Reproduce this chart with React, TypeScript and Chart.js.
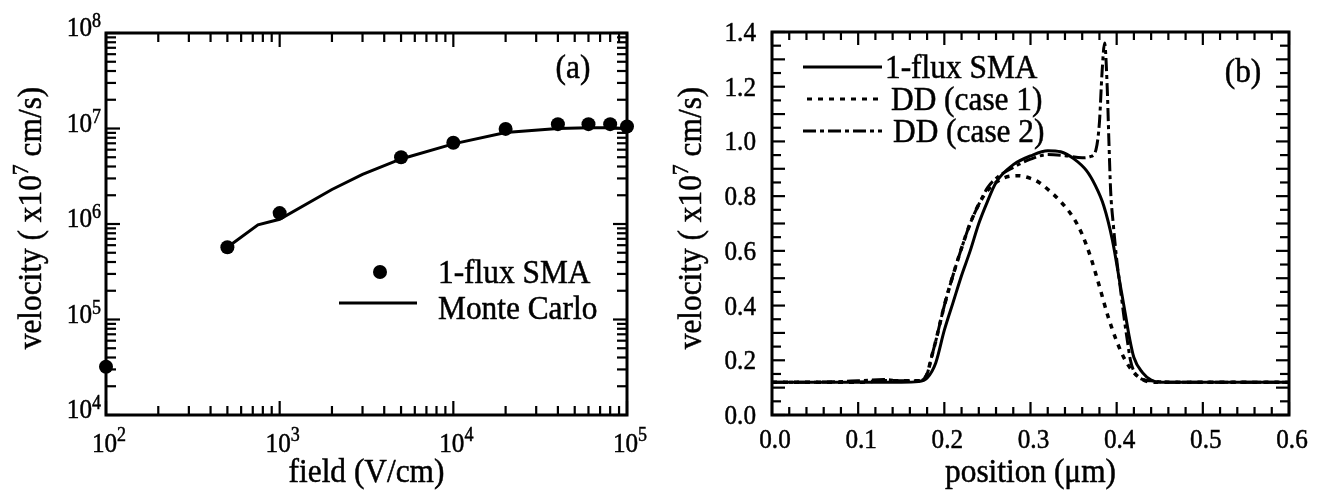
import React, { useEffect, useRef } from 'react';
import { Chart, registerables } from 'chart.js';

Chart.register(...registerables);

const FONT = '"Liberation Serif", "Times New Roman", Times, serif';
const INK = '#000000';

// ---------- Panel (a): velocity vs field (log-log) ----------
const fieldSMA = [100, 500, 1000, 5000, 10000, 20000, 40000, 60000, 80000, 100000];
const velocitySMA = [3.2e4, 5.7e5, 1.3e6, 5.0e6, 7.1e6, 9.9e6, 1.11e7, 1.11e7, 1.11e7, 1.05e7];
const fieldMC = [500, 750, 1000, 2000, 3000, 5000, 10000, 20000, 40000, 60000, 80000, 100000];
const velocityMC = [5.7e5, 9.8e5, 1.12e6, 2.3e6, 3.3e6, 4.8e6, 6.9e6, 9.1e6, 1.0e7, 1.02e7, 1.02e7, 1.0e7];
const aXExponents = [2, 3, 4, 5];
const aYExponents = [4, 5, 6, 7, 8];

// ---------- Panel (b): velocity vs position ----------
const posSMA = [0, 0.05, 0.10, 0.15, 0.17, 0.18, 0.19, 0.20, 0.21, 0.22, 0.23, 0.24, 0.25, 0.26, 0.28, 0.30, 0.32, 0.335, 0.35, 0.365, 0.375, 0.385, 0.395, 0.405, 0.41, 0.415, 0.42, 0.43, 0.44, 0.45, 0.50, 0.55, 0.60];
const velSMA = [0.12, 0.12, 0.12, 0.12, 0.122, 0.135, 0.19, 0.31, 0.41, 0.51, 0.60, 0.70, 0.78, 0.85, 0.915, 0.947, 0.966, 0.962, 0.937, 0.893, 0.84, 0.765, 0.64, 0.46, 0.37, 0.28, 0.21, 0.155, 0.128, 0.12, 0.12, 0.12, 0.12];
const posCase1 = [0, 0.05, 0.10, 0.13, 0.15, 0.17, 0.18, 0.185, 0.19, 0.20, 0.21, 0.22, 0.23, 0.24, 0.25, 0.26, 0.27, 0.285, 0.30, 0.31, 0.32, 0.335, 0.35, 0.36, 0.37, 0.38, 0.39, 0.40, 0.41, 0.42, 0.43, 0.44, 0.46, 0.50, 0.55, 0.60];
const velCase1 = [0.12, 0.12, 0.12, 0.125, 0.125, 0.125, 0.15, 0.21, 0.27, 0.40, 0.51, 0.61, 0.70, 0.77, 0.82, 0.85, 0.868, 0.875, 0.865, 0.85, 0.825, 0.78, 0.72, 0.66, 0.575, 0.47, 0.36, 0.27, 0.20, 0.155, 0.13, 0.12, 0.12, 0.12, 0.12, 0.12];
const posCase2 = [0, 0.05, 0.10, 0.13, 0.15, 0.17, 0.18, 0.185, 0.19, 0.20, 0.21, 0.22, 0.23, 0.24, 0.25, 0.26, 0.28, 0.30, 0.32, 0.34, 0.36, 0.37, 0.376, 0.380, 0.383, 0.386, 0.389, 0.391, 0.393, 0.396, 0.40, 0.404, 0.408, 0.412, 0.416, 0.42, 0.43, 0.44, 0.46, 0.50, 0.55, 0.60];
const velCase2 = [0.12, 0.12, 0.125, 0.13, 0.125, 0.125, 0.15, 0.21, 0.27, 0.40, 0.51, 0.61, 0.70, 0.77, 0.83, 0.865, 0.905, 0.935, 0.952, 0.948, 0.94, 0.945, 0.97, 1.07, 1.25, 1.36, 1.2, 1.0, 0.82, 0.70, 0.57, 0.47, 0.37, 0.28, 0.20, 0.16, 0.13, 0.125, 0.12, 0.12, 0.12, 0.12];
const bXTickLabels = ['0.0', '0.1', '0.2', '0.3', '0.4', '0.5', '0.6'];
const bYTickLabels = ['0.0', '0.2', '0.4', '0.6', '0.8', '1.0', '1.2', '1.4'];

const DASH_CASE1 = [5, 6];
const DASH_CASE2 = [13, 4, 4, 4];

const TXT = 33;      // legend / titles font size
const TXT_SX = 0.95; // horizontal squeeze of the scanned serif
const TICK = 28;     // tick label font size
const TICK_SX = 0.9;
const SUP = 20;

type Part = { text: string; size: number; rise: number };

function line(ctx: CanvasRenderingContext2D, x1: number, y1: number, x2: number, y2: number) {
  ctx.beginPath();
  ctx.moveTo(x1, y1);
  ctx.lineTo(x2, y2);
  ctx.stroke();
}

function drawParts(ctx: CanvasRenderingContext2D, parts: Part[], x: number, y: number, align: 'left' | 'center' | 'right', sx: number) {
  ctx.save();
  ctx.textAlign = 'left';
  ctx.textBaseline = 'alphabetic';
  ctx.lineWidth = 0.5;
  ctx.setLineDash([]);
  let total = 0;
  const widths = parts.map((p) => {
    ctx.font = `${p.size}px ${FONT}`;
    const w = ctx.measureText(p.text).width * sx;
    total += w;
    return w;
  });
  let cx = align === 'left' ? x : align === 'center' ? x - total / 2 : x - total;
  parts.forEach((p, i) => {
    ctx.save();
    ctx.font = `${p.size}px ${FONT}`;
    ctx.translate(cx, y - p.rise);
    ctx.scale(sx, 1);
    ctx.fillText(p.text, 0, 0);
    ctx.strokeText(p.text, 0, 0);
    ctx.restore();
    cx += widths[i];
  });
  ctx.restore();
}

function drawRotated(ctx: CanvasRenderingContext2D, parts: Part[], x: number, y: number) {
  ctx.save();
  ctx.translate(x, y);
  ctx.rotate(-Math.PI / 2);
  drawParts(ctx, parts, 0, 0, 'center', TXT_SX);
  ctx.restore();
}

function yTitleParts(): Part[] {
  return [
    { text: 'velocity ( x10', size: TXT, rise: 0 },
    { text: '7', size: 23, rise: 13 },
    { text: ' cm/s)', size: TXT, rise: 0 },
  ];
}

const panelAPlugin = {
  id: 'panelAFrame',
  afterDraw(chart: any) {
    const ctx: CanvasRenderingContext2D = chart.ctx;
    const { left, right, top, bottom } = chart.chartArea;
    const xs = chart.scales.x;
    const ys = chart.scales.y;
    ctx.save();
    ctx.strokeStyle = INK;
    ctx.fillStyle = INK;
    ctx.lineWidth = 2.2;
    for (let e = aXExponents[0]; e <= aXExponents[aXExponents.length - 1]; e++) {
      for (let k = 1; k <= 9; k++) {
        const v = k * Math.pow(10, e);
        if (v > xs.max * 1.0001) break;
        const px = xs.getPixelForValue(v);
        const len = k === 1 ? 14 : 9;
        line(ctx, px, bottom, px, bottom - len);
        line(ctx, px, top, px, top + len);
      }
    }
    for (let e = aYExponents[0]; e <= aYExponents[aYExponents.length - 1]; e++) {
      for (let k = 1; k <= 9; k++) {
        const v = k * Math.pow(10, e);
        if (v > ys.max * 1.0001) break;
        const py = ys.getPixelForValue(v);
        const len = k === 1 ? 14 : 10;
        line(ctx, left, py, left + len, py);
        line(ctx, right, py, right - len, py);
      }
    }
    ctx.lineWidth = 3;
    ctx.strokeRect(left, top, right - left, bottom - top);

    aXExponents.forEach((e) => {
      const px = xs.getPixelForValue(Math.pow(10, e));
      drawParts(ctx, [{ text: '10', size: TICK, rise: 0 }, { text: String(e), size: SUP, rise: 11 }], px + 3, 452, 'center', TICK_SX);
    });
    aYExponents.forEach((e) => {
      const py = ys.getPixelForValue(Math.pow(10, e));
      drawParts(ctx, [{ text: '10', size: TICK, rise: 0 }, { text: String(e), size: SUP, rise: 9 }], 101, py + 3, 'right', TICK_SX);
    });

    drawParts(ctx, [{ text: 'field (V/cm)', size: TXT, rise: 0 }], (left + right) / 2, 482, 'center', TXT_SX);
    drawRotated(ctx, yTitleParts(), 41, 218);

    drawParts(ctx, [{ text: '(a)', size: TXT, rise: 0 }], 573, 78, 'center', TXT_SX);

    ctx.beginPath();
    ctx.arc(380, 272, 7, 0, Math.PI * 2);
    ctx.fill();
    drawParts(ctx, [{ text: '1-flux SMA', size: TXT, rise: 0 }], 438, 283, 'left', TXT_SX);
    ctx.lineWidth = 3;
    line(ctx, 339, 303, 417, 303);
    drawParts(ctx, [{ text: 'Monte Carlo', size: TXT, rise: 0 }], 438, 319, 'left', TXT_SX);
    ctx.restore();
  },
};

const panelBPlugin = {
  id: 'panelBFrame',
  afterDraw(chart: any) {
    const ctx: CanvasRenderingContext2D = chart.ctx;
    const { left, right, top, bottom } = chart.chartArea;
    const xs = chart.scales.x;
    const ys = chart.scales.y;
    ctx.save();
    ctx.strokeStyle = INK;
    ctx.fillStyle = INK;
    ctx.lineWidth = 2.2;
    for (let i = 0; i <= 30; i++) {
      const v = i * 0.02;
      const px = xs.getPixelForValue(v);
      const len = i % 5 === 0 ? 13 : 8;
      line(ctx, px, bottom, px, bottom - len);
      line(ctx, px, top, px, top + len);
    }
    for (let i = 0; i <= 28; i++) {
      const v = i * 0.05;
      const py = ys.getPixelForValue(v);
      const len = i % 2 === 0 ? 13 : 9;
      line(ctx, left, py, left + len, py);
      line(ctx, right, py, right - len, py);
    }
    ctx.lineWidth = 3;
    ctx.strokeRect(left, top, right - left, bottom - top);

    bXTickLabels.forEach((t) => {
      const px = xs.getPixelForValue(parseFloat(t));
      drawParts(ctx, [{ text: t, size: TICK, rise: 0 }], px + 3, 448, 'center', TICK_SX);
    });
    bYTickLabels.forEach((t) => {
      const py = ys.getPixelForValue(parseFloat(t));
      drawParts(ctx, [{ text: t, size: TICK, rise: 0 }], 96, py + 9, 'right', TICK_SX);
    });

    drawParts(ctx, [{ text: 'position (\u03bcm)', size: TXT, rise: 0 }], (left + right) / 2, 482, 'center', TXT_SX);
    drawRotated(ctx, yTitleParts(), 41, 218);

    drawParts(ctx, [{ text: '(b)', size: TXT, rise: 0 }], 583, 82, 'center', TXT_SX);

    ctx.lineWidth = 3;
    line(ctx, 143, 67, 222, 67);
    drawParts(ctx, [{ text: '1-flux SMA', size: TXT, rise: 0 }], 225, 78, 'left', TXT_SX);
    ctx.lineWidth = 3;
    ctx.setLineDash(DASH_CASE1);
    line(ctx, 147, 99, 222, 99);
    ctx.setLineDash([]);
    drawParts(ctx, [{ text: 'DD (case 1)', size: TXT, rise: 0 }], 231, 110, 'left', TXT_SX);
    ctx.lineWidth = 3;
    ctx.setLineDash(DASH_CASE2);
    line(ctx, 143, 131, 222, 131);
    ctx.setLineDash([]);
    drawParts(ctx, [{ text: 'DD (case 2)', size: TXT, rise: 0 }], 233, 142, 'left', TXT_SX);
    ctx.restore();
  },
};

function pts(xs: number[], ys: number[]) {
  return xs.map((x, i) => ({ x, y: ys[i] }));
}

function hiddenAxis(extra: any) {
  return {
    grid: { display: false },
    border: { display: false },
    ticks: { display: false },
    title: { display: false },
    ...extra,
  };
}

export default function App() {
  const refA = useRef<HTMLCanvasElement | null>(null);
  const refB = useRef<HTMLCanvasElement | null>(null);

  useEffect(() => {
    const chartA = new Chart(refA.current as HTMLCanvasElement, {
      type: 'line',
      data: {
        datasets: [
          {
            label: '1-flux SMA',
            data: pts(fieldSMA, velocitySMA),
            showLine: false,
            pointRadius: 7,
            pointBackgroundColor: INK,
            pointBorderColor: INK,
            pointBorderWidth: 0,
            clip: false,
          } as any,
          {
            label: 'Monte Carlo',
            data: pts(fieldMC, velocityMC),
            borderColor: INK,
            borderWidth: 3,
            pointRadius: 0,
            tension: 0,
            fill: false,
          },
        ],
      },
      options: {
        animation: false,
        responsive: false,
        layout: { padding: { top: 33, right: 33, left: 0, bottom: 0 } },
        plugins: { legend: { display: false }, tooltip: { enabled: false } },
        scales: {
          x: hiddenAxis({ type: 'logarithmic', min: 100, max: 100000, afterFit: (s: any) => { s.height = 77; } }),
          y: hiddenAxis({ type: 'logarithmic', min: 1e4, max: 1e8, afterFit: (s: any) => { s.width = 106; } }),
        },
      } as any,
      plugins: [panelAPlugin],
    });

    const chartB = new Chart(refB.current as HTMLCanvasElement, {
      type: 'line',
      data: {
        datasets: [
          {
            label: '1-flux SMA',
            data: pts(posSMA, velSMA),
            borderColor: INK,
            borderWidth: 3,
            pointRadius: 0,
            cubicInterpolationMode: 'monotone',
            fill: false,
          },
          {
            label: 'DD (case 1)',
            data: pts(posCase1, velCase1),
            borderColor: INK,
            borderWidth: 3.5,
            borderDash: DASH_CASE1,
            pointRadius: 0,
            cubicInterpolationMode: 'monotone',
            fill: false,
          },
          {
            label: 'DD (case 2)',
            data: pts(posCase2, velCase2),
            borderColor: INK,
            borderWidth: 3,
            borderDash: DASH_CASE2,
            pointRadius: 0,
            cubicInterpolationMode: 'monotone',
            fill: false,
          },
        ],
      },
      options: {
        animation: false,
        responsive: false,
        layout: { padding: { top: 32, right: 34, left: 0, bottom: 0 } },
        plugins: { legend: { display: false }, tooltip: { enabled: false } },
        scales: {
          x: hiddenAxis({ type: 'linear', min: 0, max: 0.6, afterFit: (s: any) => { s.height = 77; } }),
          y: hiddenAxis({ type: 'linear', min: 0, max: 1.4, afterFit: (s: any) => { s.width = 112; } }),
        },
      } as any,
      plugins: [panelBPlugin],
    });

    return () => {
      chartA.destroy();
      chartB.destroy();
    };
  }, []);

  return (
    <div style={{ position: 'absolute', left: 0, top: 0, width: 1323, height: 492, background: '#fff' }}>
      <canvas ref={refA} width={660} height={492} style={{ position: 'absolute', left: 0, top: 0, width: 660, height: 492 }} />
      <canvas ref={refB} width={663} height={492} style={{ position: 'absolute', left: 660, top: 0, width: 663, height: 492 }} />
    </div>
  );
}
